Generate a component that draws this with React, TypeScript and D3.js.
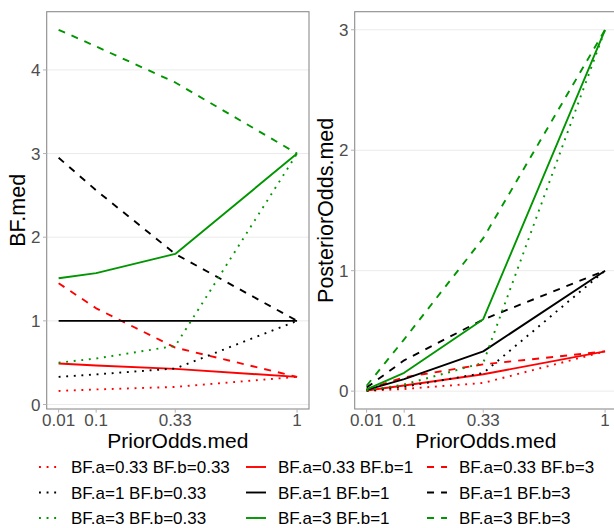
import React from "react";
import * as d3 from "d3";

// ---- data ----
const priorOdds = [0.01, 0.1, 0.33, 1];
const xTicks = [0.01, 0.1, 0.33, 1];
const xTickLabels = ["0.01", "0.1", "0.33", "1"];
const bfTicks = [0, 1, 2, 3, 4];
const postTicks = [0, 1, 2, 3];

const bfALevels = ["0.33", "1", "3"];
const bfBLevels = ["0.33", "1", "3"];

// BF.med by (BF.a, BF.b)
const bf_a033_b033 = [0.162, 0.18, 0.21, 0.33];
const bf_a033_b1 = [0.49, 0.466, 0.426, 0.33];
const bf_a033_b3 = [1.45, 1.15, 0.68, 0.33];
const bf_a1_b033 = [0.33, 0.36, 0.43, 1];
const bf_a1_b1 = [1, 1, 1, 1];
const bf_a1_b3 = [2.95, 2.56, 1.8, 1];
const bf_a3_b033 = [0.5, 0.55, 0.7, 3];
const bf_a3_b1 = [1.51, 1.57, 1.8, 3];
const bf_a3_b3 = [4.48, 4.28, 3.85, 3];

// PosteriorOdds.med by (BF.a, BF.b)
const post_a033_b033 = [0.0017, 0.018, 0.068, 0.33];
const post_a033_b1 = [0.0049, 0.047, 0.14, 0.33];
const post_a033_b3 = [0.0145, 0.115, 0.222, 0.33];
const post_a1_b033 = [0.0033, 0.036, 0.15, 1];
const post_a1_b1 = [0.01, 0.1, 0.33, 1];
const post_a1_b3 = [0.0295, 0.256, 0.595, 1];
const post_a3_b033 = [0.005, 0.055, 0.235, 3];
const post_a3_b1 = [0.015, 0.152, 0.597, 3];
const post_a3_b3 = [0.045, 0.43, 1.27, 3];

const bfSeries = [
  [bf_a033_b033, bf_a033_b1, bf_a033_b3],
  [bf_a1_b033, bf_a1_b1, bf_a1_b3],
  [bf_a3_b033, bf_a3_b1, bf_a3_b3],
];
const postSeries = [
  [post_a033_b033, post_a033_b1, post_a033_b3],
  [post_a1_b033, post_a1_b1, post_a1_b3],
  [post_a3_b033, post_a3_b1, post_a3_b3],
];

// ---- styles ----
const colors = ["#FF0000", "#000000", "#009600"];
const LW = 1.9;
const dashes = [`${LW} ${LW * 3}`, "", `${LW * 3.7} ${LW * 3.7}`];
const FONT = "'Liberation Sans', Arial, Helvetica, sans-serif";

const W = 614;
const H = 528;
const panelTop = 11.7;
const panelBottom = 409;

// pseudo-log style transform for x
const tx = (v: number) => Math.asinh(v / 0.294);

function expandDomain(lo: number, hi: number) {
  const r = hi - lo;
  return [lo - 0.05 * r, hi + 0.05 * r];
}

type PanelProps = {
  x0: number;
  x1: number;
  data: number[][][];
  yTicks: number[];
  yTitle: string;
  yTitleX: number;
};

function Panel({ x0, x1, data, yTicks, yTitle, yTitleX }: PanelProps) {
  const xd = expandDomain(tx(priorOdds[0]), tx(priorOdds[priorOdds.length - 1]));
  const xLin = d3.scaleLinear().domain(xd).range([x0, x1]);
  const x = (v: number) => xLin(tx(v));
  const all = data.flat(2);
  const [ymin, ymax] = d3.extent(all) as [number, number];
  const yd = expandDomain(ymin, ymax);
  const y = d3.scaleLinear().domain(yd).range([panelBottom, panelTop]);
  const line = d3
    .line<number>()
    .x((_, i) => x(priorOdds[i]))
    .y((d) => y(d));
  const tickLen = 3.67;
  const midY = (panelTop + panelBottom) / 2;
  const clipId = `clip-${Math.round(x0)}`;
  return (
    <g>
      <defs>
        <clipPath id={clipId}>
          <rect x={x0} y={panelTop} width={x1 - x0} height={panelBottom - panelTop} />
        </clipPath>
      </defs>
      {yTicks.map((t) => (
        <line key={"g" + t} x1={x0} x2={x1} y1={y(t)} y2={y(t)} stroke="#EBEBEB" strokeWidth={1} />
      ))}
      <g clipPath={`url(#${clipId})`}>
        {data.map((row, ai) =>
          row.map((vals, bi) => (
            <path
              key={`${ai}-${bi}`}
              d={line(vals) || ""}
              fill="none"
              stroke={colors[ai]}
              strokeWidth={LW}
              strokeDasharray={dashes[bi]}
              strokeLinejoin="round"
            />
          ))
        )}
      </g>
      <rect x={x0} y={panelTop} width={x1 - x0} height={panelBottom - panelTop} fill="none" stroke="#8C8C8C" strokeWidth={1.1} />
      {yTicks.map((t) => (
        <g key={"y" + t}>
          <line x1={x0 - tickLen} x2={x0} y1={y(t)} y2={y(t)} stroke="#B3B3B3" strokeWidth={1} />
          <text x={x0 - tickLen - 2.5} y={y(t)} dy="0.36em" textAnchor="end" fontSize={17} fill="#4D4D4D" fontFamily={FONT}>
            {t}
          </text>
        </g>
      ))}
      {xTicks.map((t, i) => (
        <g key={"x" + t}>
          <line x1={x(t)} x2={x(t)} y1={panelBottom} y2={panelBottom + tickLen} stroke="#B3B3B3" strokeWidth={1} />
          <text x={x(t)} y={425.5} textAnchor="middle" fontSize={17} fill="#4D4D4D" fontFamily={FONT}>
            {xTickLabels[i]}
          </text>
        </g>
      ))}
      <text x={(x0 + x1) / 2} y={448.3} textAnchor="middle" fontSize={21} fill="#000" fontFamily={FONT}>
        PriorOdds.med
      </text>
      <text
        transform={`translate(${yTitleX},${midY}) rotate(-90)`}
        textAnchor="middle"
        fontSize={21.5}
        fill="#000"
        fontFamily={FONT}
      >
        {yTitle}
      </text>
    </g>
  );
}

function Legend() {
  const colKeyX = [39, 246, 427];
  const rowY = [467, 492.5, 518];
  const keyW = 20;
  return (
    <g>
      {bfBLevels.map((b, bi) =>
        bfALevels.map((a, ai) => (
          <g key={`${ai}-${bi}`}>
            <line
              x1={colKeyX[bi]}
              x2={colKeyX[bi] + keyW}
              y1={rowY[ai]}
              y2={rowY[ai]}
              stroke={colors[ai]}
              strokeWidth={LW}
              strokeDasharray={dashes[bi]}
            />
            <text x={colKeyX[bi] + keyW + 12} y={rowY[ai]} dy="0.36em" fontSize={17} fill="#000" fontFamily={FONT}>
              {`BF.a=${a} BF.b=${b}`}
            </text>
          </g>
        ))
      )}
    </g>
  );
}

export default function App() {
  return (
    <svg
      width={W}
      height={H}
      viewBox={`0 0 ${W} ${H}`}
      style={{ position: "absolute", left: 0, top: 0, background: "#fff" }}
    >
      <rect x={0} y={0} width={W} height={H} fill="#fff" />
      <Panel x0={46.7} x1={309} data={bfSeries} yTicks={bfTicks} yTitle="BF.med" yTitleX={25} />
      <Panel x0={354.7} x1={617} data={postSeries} yTicks={postTicks} yTitle="PosteriorOdds.med" yTitleX={333} />
      <Legend />
    </svg>
  );
}
